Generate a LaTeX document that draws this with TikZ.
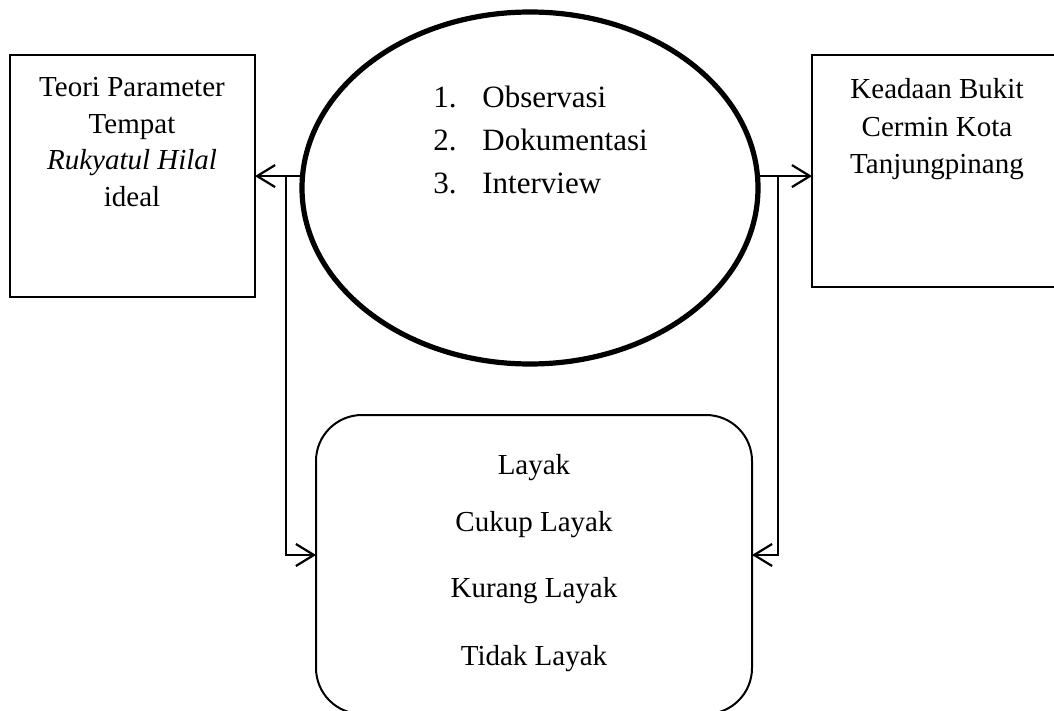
\documentclass[tikz,border=0pt]{standalone}
\usepackage{fontspec}
\setmainfont{Liberation Serif}
\usetikzlibrary{shapes.geometric,arrows.meta}
\begin{document}
\begin{tikzpicture}[x=0.5pt,y=-0.5pt,
  box/.style={draw,line width=1pt,inner sep=0,outer sep=0},
  txt/.style={inner sep=0,anchor=base,font=\fontsize{14.5}{17}\selectfont},
  itm/.style={inner sep=0,anchor=base west,font=\fontsize{15.5}{18}\selectfont},
  conn/.style={line width=1.1pt},
  arr/.style={conn,-{Straight Barb[length=9pt,width=11pt,line width=1.1pt]}}]
\useasboundingbox (0,0) rectangle (1054,711);
% boxes
\node[box, minimum width=122.5pt, minimum height=121pt] (L) at (132.5,176) {};
\node[box, minimum width=124pt, minimum height=116pt] (R) at (936,171) {};
\node[box, ellipse, line width=2.6pt, minimum width=228pt, minimum height=176pt] (E) at (530,188) {};
\node[box, rounded corners=23pt, minimum width=218pt, minimum height=149.5pt] (B) at (534,564.5) {};
% left text
\node[txt] (l1) at (132,97) {Teori Parameter};
\node[txt] (l2) at (132,134) {Tempat};
\node[txt] (l3) at (132,170) {\textit{Rukyatul Hilal}};
\node[txt] (l4) at (132,207) {ideal};
% right text
\node[txt] (r1) at (937,99) {Keadaan Bukit};
\node[txt] (r2) at (937,137) {Cermin Kota};
\node[txt] (r3) at (937,174) {Tanjungpinang};
% ellipse items
\node[itm] (e1) at (433,108) {\makebox[24.5pt][l]{1.}Observasi};
\node[itm] (e2) at (433,151) {\makebox[24.5pt][l]{2.}Dokumentasi};
\node[itm] (e3) at (433,194) {\makebox[24.5pt][l]{3.}Interview};
% bottom text
\node[txt] (b1) at (534,474) {Layak};
\node[txt] (b2) at (534,531) {Cukup Layak};
\node[txt] (b3) at (534,597) {Kurang Layak};
\node[txt] (b4) at (534,665) {Tidak Layak};
% connectors
\coordinate (jL) at (286,177);
\coordinate (kL) at (286,555);
\coordinate (jR) at (778,177);
\coordinate (kR) at (778,555);
\draw[arr] (E.177) -- (E.177 -| L.east);
\draw[arr] (E.3) -- (E.3 -| R.west);
\draw[arr] (jL) -- (kL) -- (kL -| B.west);
\draw[arr] (jR) -- (kR) -- (kR -| B.east);
\end{tikzpicture}
\end{document}
